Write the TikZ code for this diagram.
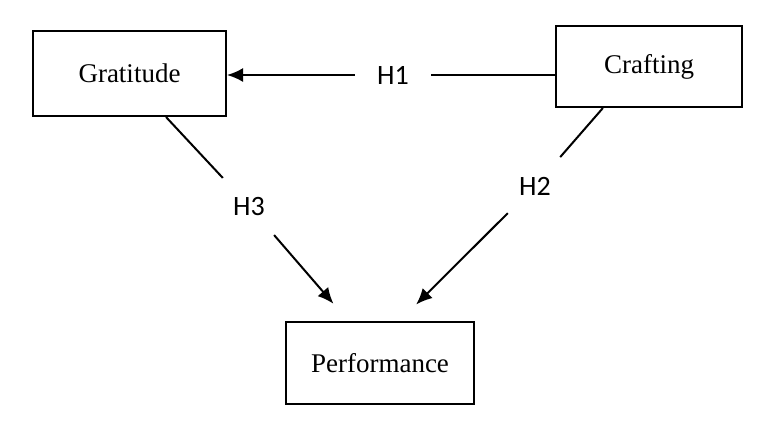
\documentclass[tikz,border=0pt]{standalone}
\usepackage{fontspec}
\setmainfont{Liberation Serif}
\newfontfamily\hypfont{Carlito}
\usetikzlibrary{arrows.meta}

\begin{document}
\begin{tikzpicture}[x=0.5pt, y=-0.5pt,
    box/.style={draw, line width=1pt, inner sep=0pt, font=\fontsize{13.5}{16}\selectfont},
    hyp/.style={circle, inner sep=0pt, minimum size=38pt, font=\hypfont\fontsize{14}{16}\selectfont},
    link/.style={line width=1pt},
    arrow/.style={link, -{Latex[length=8pt,width=7pt]}}]
    % Fix the canvas
    \useasboundingbox (0,0) rectangle (769,420);

    % Draw boxes
    \node[box, minimum width=96.5pt, minimum height=42.5pt] (grat) at (129.5,73.5) {Gratitude};
    \node[box, minimum width=93pt, minimum height=40.5pt] (craft) at (649,66.5) {Crafting};
    \node[box, minimum width=94pt, minimum height=41pt] (perf) at (380,363) {Performance};

    % Draw hypothesis labels
    \node[hyp] (h1) at (393,75) {H1};
    \node[hyp] (h2) at (535,186) {H2};
    \node[hyp] (h3) at (249,206) {H3};

    % Draw connecting arrows
    \draw[link] (craft.west |- h1) -- (h1);
    \draw[arrow] (h1) -- (grat.east |- h1);
    \draw[link] (craft.-138) -- (h2);
    \draw[arrow, shorten >=11.7pt] (h2) -- (perf.65);
    \draw[link] (grat.-50) -- (h3);
    \draw[arrow, shorten >=11.4pt] (h3) -- (perf.127);
\end{tikzpicture}
\end{document}
